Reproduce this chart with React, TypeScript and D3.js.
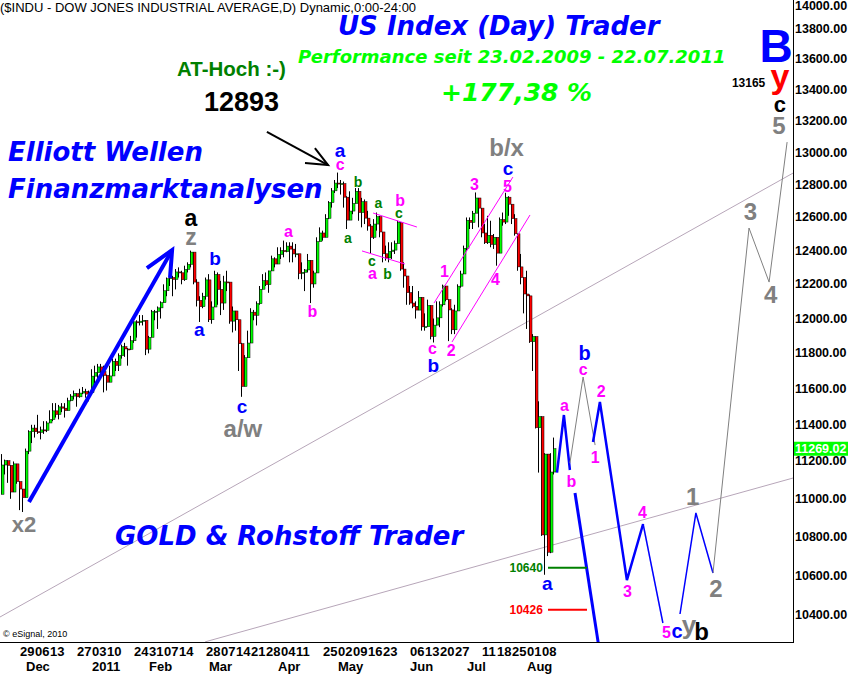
import React from "react";
import * as d3 from "d3";

// ---------- DATA (DJIA daily) ----------
const dates = [
"2010-11-18","2010-11-19","2010-11-22","2010-11-23","2010-11-24","2010-11-26","2010-11-29","2010-11-30",
"2010-12-01","2010-12-02","2010-12-03","2010-12-06","2010-12-07","2010-12-08","2010-12-09","2010-12-10","2010-12-13","2010-12-14","2010-12-15","2010-12-16","2010-12-17","2010-12-20","2010-12-21","2010-12-22","2010-12-23","2010-12-27","2010-12-28","2010-12-29","2010-12-30","2010-12-31",
"2011-01-03","2011-01-04","2011-01-05","2011-01-06","2011-01-07","2011-01-10","2011-01-11","2011-01-12","2011-01-13","2011-01-14","2011-01-18","2011-01-19","2011-01-20","2011-01-21","2011-01-24","2011-01-25","2011-01-26","2011-01-27","2011-01-28","2011-01-31",
"2011-02-01","2011-02-02","2011-02-03","2011-02-04","2011-02-07","2011-02-08","2011-02-09","2011-02-10","2011-02-11","2011-02-14","2011-02-15","2011-02-16","2011-02-17","2011-02-18","2011-02-22","2011-02-23","2011-02-24","2011-02-25","2011-02-28",
"2011-03-01","2011-03-02","2011-03-03","2011-03-04","2011-03-07","2011-03-08","2011-03-09","2011-03-10","2011-03-11","2011-03-14","2011-03-15","2011-03-16","2011-03-17","2011-03-18","2011-03-21","2011-03-22","2011-03-23","2011-03-24","2011-03-25","2011-03-28","2011-03-29","2011-03-30","2011-03-31",
"2011-04-01","2011-04-04","2011-04-05","2011-04-06","2011-04-07","2011-04-08","2011-04-11","2011-04-12","2011-04-13","2011-04-14","2011-04-15","2011-04-18","2011-04-19","2011-04-20","2011-04-21","2011-04-25","2011-04-26","2011-04-27","2011-04-28","2011-04-29",
"2011-05-02","2011-05-03","2011-05-04","2011-05-05","2011-05-06","2011-05-09","2011-05-10","2011-05-11","2011-05-12","2011-05-13","2011-05-16","2011-05-17","2011-05-18","2011-05-19","2011-05-20","2011-05-23","2011-05-24","2011-05-25","2011-05-26","2011-05-27","2011-05-31",
"2011-06-01","2011-06-02","2011-06-03","2011-06-06","2011-06-07","2011-06-08","2011-06-09","2011-06-10","2011-06-13","2011-06-14","2011-06-15","2011-06-16","2011-06-17","2011-06-20","2011-06-21","2011-06-22","2011-06-23","2011-06-24","2011-06-27","2011-06-28","2011-06-29","2011-06-30",
"2011-07-01","2011-07-05","2011-07-06","2011-07-07","2011-07-08","2011-07-11","2011-07-12","2011-07-13","2011-07-14","2011-07-15","2011-07-18","2011-07-19","2011-07-20","2011-07-21","2011-07-22","2011-07-25","2011-07-26","2011-07-27","2011-07-28","2011-07-29",
"2011-08-01","2011-08-02","2011-08-03","2011-08-04","2011-08-05","2011-08-08","2011-08-09","2011-08-10","2011-08-11","2011-08-12"
];

const opens = [
11024,11181,11204,11179,11036,11187,11092,11052,
11006,11256,11362,11382,11362,11359,11372,11370,11410,11429,11477,11457,11499,11492,11478,11533,11559,11573,11555,11576,11585,11570,
11578,11671,11691,11723,11697,11675,11637,11672,11755,11732,11787,11838,11825,11823,11872,11981,11977,11985,11990,11824,
11892,12040,12042,12062,12092,12162,12233,12240,12229,12273,12268,12227,12288,12318,12391,12213,12106,12069,12130,
12226,11993,12067,12258,12170,12090,12214,12213,11985,12044,11993,11855,11613,11775,11859,12037,12019,12086,12171,12221,12198,12279,12351,
12320,12377,12400,12394,12427,12409,12380,12381,12264,12271,12285,12342,12202,12267,12454,12506,12480,12595,12691,12763,
12811,12807,12808,12724,12584,12639,12685,12760,12630,12696,12596,12548,12480,12560,12605,12512,12381,12356,12395,12403,12442,
12570,12290,12249,12151,12090,12071,12049,12124,11952,11953,12076,11897,11962,12004,12080,12190,12110,12050,11935,12044,12189,12261,
12414,12583,12570,12626,12719,12657,12506,12447,12492,12437,12480,12385,12587,12572,12724,12681,12593,12501,12303,12240,
12143,12132,11867,11896,11384,11445,10810,11240,10720,11143
];

const highs = [
11240,11210,11204,11179,11200,11187,11092,11052,
11270,11370,11400,11400,11455,11390,11420,11420,11480,11520,11520,11510,11520,11520,11550,11570,11590,11573,11600,11610,11600,11590,
11710,11730,11740,11740,11730,11680,11730,11770,11770,11800,11850,11860,11830,11900,11990,11990,12020,12020,11990,11900,
12050,12050,12070,12100,12200,12240,12250,12250,12290,12300,12280,12310,12330,12400,12391,12230,12130,12150,12240,
12260,12100,12280,12270,12220,12250,12280,12213,12070,12044,11993,11860,11790,11930,12060,12050,12100,12190,12260,12270,12280,12370,12360,
12420,12420,12460,12450,12450,12450,12440,12381,12330,12290,12380,12342,12280,12480,12540,12520,12620,12700,12780,12830,
12876,12830,12820,12730,12760,12720,12780,12780,12720,12710,12640,12560,12590,12630,12610,12512,12430,12450,12450,12460,12580,
12570,12330,12249,12190,12190,12100,12160,12124,12030,12110,12076,12000,12100,12100,12198,12190,12110,12060,12080,12200,12280,12430,
12600,12600,12640,12753,12719,12657,12560,12610,12580,12500,12480,12600,12630,12751,12730,12681,12620,12501,12380,12240,
12280,12140,11910,11896,11530,11445,11245,11240,11245,11330
];

const lows = [
11024,11130,11085,11000,11036,11080,10940,10930,
11006,11240,11300,11330,11350,11320,11350,11360,11410,11420,11440,11430,11470,11440,11478,11530,11540,11500,11550,11570,11550,11530,
11578,11630,11640,11660,11580,11590,11637,11672,11700,11700,11770,11780,11730,11820,11860,11890,11960,11960,11790,11800,
11892,11990,11940,12000,12092,12130,12190,12130,12170,12240,12200,12220,12270,12300,12200,12070,11980,12060,12110,
11980,11970,12067,12080,12020,12050,12160,11970,11920,11930,11700,11555,11613,11775,11859,11990,11960,12080,12170,12190,12150,12279,12300,
12320,12350,12360,12390,12330,12330,12360,12230,12230,12160,12270,12090,12180,12267,12454,12460,12480,12590,12660,12750,
12780,12740,12660,12530,12584,12620,12685,12580,12540,12560,12520,12380,12470,12520,12480,12330,12340,12330,12350,12380,12442,
12280,12180,12080,12080,12060,12000,12049,11930,11930,11953,11880,11862,11960,11950,12070,12100,11870,11910,11910,12044,12180,12261,
12400,12530,12530,12626,12540,12480,12440,12440,12420,12410,12310,12385,12550,12560,12610,12560,12490,12280,12200,12030,
11940,11860,11700,11380,11140,10805,10604,10700,10715,11130
];

const closes = [
11181,11204,11179,11036,11187,11092,11052,11006,
11256,11362,11382,11362,11359,11372,11370,11410,11429,11477,11457,11499,11492,11478,11533,11559,11573,11555,11576,11585,11570,11578,
11671,11691,11723,11697,11675,11637,11672,11755,11732,11787,11838,11825,11823,11872,11981,11977,11985,11990,11824,11892,
12040,12042,12062,12092,12162,12233,12240,12229,12273,12268,12227,12288,12318,12391,12213,12106,12069,12130,12226,
11993,12067,12258,12170,12090,12214,12213,11985,12044,11993,11855,11613,11775,11859,12037,12019,12086,12171,12221,12198,12279,12351,12320,
12377,12400,12394,12427,12409,12380,12381,12264,12271,12285,12342,12202,12267,12454,12506,12480,12595,12691,12763,12811,
12807,12808,12724,12584,12639,12685,12760,12630,12696,12596,12548,12480,12560,12605,12512,12381,12356,12395,12403,12442,12570,
12290,12249,12151,12090,12071,12049,12124,11952,11953,12076,11897,11962,12004,12080,12190,12110,12050,11935,12044,12189,12261,12414,
12583,12570,12626,12719,12657,12506,12447,12492,12437,12480,12385,12587,12572,12724,12681,12593,12501,12303,12240,12143,
12132,11867,11896,11384,11445,10810,11240,10720,11143,11269.02
];

const lastPrice = 11269.02;

const yTicks = [10400,10600,10800,11000,11200,11400,11600,11800,12000,12200,12400,12600,12800,13000,13200,13400,13600,13800,14000];

const dayTicks = [
"2010-11-29","2010-12-06","2010-12-13","2010-12-27","2011-01-03","2011-01-10","2011-01-24","2011-01-31","2011-02-07","2011-02-14",
"2011-02-28","2011-03-07","2011-03-14","2011-03-21","2011-03-28","2011-04-04","2011-04-11","2011-04-25","2011-05-02","2011-05-09",
"2011-05-16","2011-05-23","2011-06-06","2011-06-13","2011-06-20","2011-06-27","2011-07-11","2011-07-18","2011-07-25","2011-08-01","2011-08-08"
];
const monthTickDates = ["2010-12-01","2011-01-03","2011-01-31","2011-03-01","2011-04-01","2011-05-02","2011-06-06","2011-07-01","2011-08-01"];
const monthTickNames = ["Dec","2011","Feb","Mar","Apr","May","Jun","Jul","Aug"];

const BLUE = "#0000ff", MAG = "#ff00ff", GRAY = "#808080", GREEN = "#008000", BLACK = "#000000", RED = "#ff0000";

// wave labels: bar index (may be future), price at baseline
const waveLabels = [
  { t: "a", i: 63, v: 12548, c: BLACK, s: 23 },
  { t: "z", i: 63, v: 12434, c: GRAY, s: 23 },
  { t: "b", i: 71, v: 12314, c: BLUE, s: 19 },
  { t: "a", i: 65.8, v: 11900, c: BLUE, s: 19 },
  { t: "c", i: 80, v: 11465, c: BLUE, s: 19 },
  { t: "a/w", i: 80.3, v: 11333, c: GRAY, s: 24 },
  { t: "a", i: 95.5, v: 12482, c: MAG, s: 16 },
  { t: "b", i: 103.5, v: 12008, c: MAG, s: 16 },
  { t: "a", i: 112.7, v: 12973, c: BLUE, s: 19 },
  { t: "c", i: 112.7, v: 12893, c: MAG, s: 16 },
  { t: "b", i: 118.7, v: 12786, c: GREEN, s: 14 },
  { t: "a", i: 115.3, v: 12446, c: GREEN, s: 14 },
  { t: "a", i: 125.5, v: 12658, c: GREEN, s: 14 },
  { t: "b", i: 132.7, v: 12670, c: MAG, s: 16 },
  { t: "c", i: 132.3, v: 12597, c: GREEN, s: 14 },
  { t: "c", i: 123.3, v: 12308, c: GREEN, s: 14 },
  { t: "a", i: 123.5, v: 12231, c: MAG, s: 16 },
  { t: "b", i: 128.5, v: 12231, c: GREEN, s: 14 },
  { t: "1", i: 147.5, v: 12243, c: MAG, s: 16 },
  { t: "2", i: 149.7, v: 11785, c: MAG, s: 16 },
  { t: "c", i: 143.5, v: 11796, c: MAG, s: 16 },
  { t: "b", i: 143.8, v: 11694, c: BLUE, s: 19 },
  { t: "3", i: 157.5, v: 12768, c: MAG, s: 16 },
  { t: "4", i: 164.5, v: 12196, c: MAG, s: 16 },
  { t: "5", i: 168.5, v: 12756, c: MAG, s: 16 },
  { t: "c", i: 168.7, v: 12861, c: BLUE, s: 19 },
  { t: "b/x", i: 168.2, v: 12980, c: GRAY, s: 24 },
  { t: "b", i: 194.2, v: 11762, c: BLUE, s: 20 },
  { t: "c", i: 193.7, v: 11677, c: MAG, s: 16 },
  { t: "a", i: 187.5, v: 11476, c: MAG, s: 16 },
  { t: "2", i: 199.7, v: 11554, c: MAG, s: 16 },
  { t: "1", i: 197.7, v: 11192, c: MAG, s: 16 },
  { t: "b", i: 189.8, v: 11063, c: MAG, s: 16 },
  { t: "4", i: 213.5, v: 10898, c: MAG, s: 16 },
  { t: "3", i: 208.5, v: 10491, c: MAG, s: 16 },
  { t: "1", i: 230.2, v: 10967, c: GRAY, s: 24 },
  { t: "2", i: 238, v: 10491, c: GRAY, s: 24 },
  { t: "5", i: 221.5, v: 10285, c: MAG, s: 16 },
  { t: "c", i: 225, v: 10285, c: BLUE, s: 20 },
  { t: "y", i: 229, v: 10305, c: GRAY, s: 26 },
  { t: "b", i: 233.2, v: 10275, c: BLACK, s: 24 },
  { t: "a", i: 181.8, v: 10526, c: BLUE, s: 19 },
  { t: "3", i: 249.5, v: 12584, c: GRAY, s: 24 },
  { t: "4", i: 256.2, v: 12090, c: GRAY, s: 24 },
  { t: "5", i: 259, v: 13118, c: GRAY, s: 24 },
  { t: "c", i: 259.3, v: 13258, c: BLACK, s: 22 },
  { t: "y", i: 259.3, v: 13413, c: RED, s: 34 },
  { t: "B", i: 258, v: 13582, c: BLUE, s: 46 },
  { t: "x2", i: 7.3, v: 10825, c: GRAY, s: 22 },
];

// projected / annotation paths [barIndex, price]
const projections = [
  { c: BLUE, w: 2.5, pts: [[185, 11140], [187.3, 11454], [189.3, 11154]] },
  { c: GRAY, w: 1, pts: [[189.3, 11191], [193.7, 11666], [197.7, 11289]] },
  { c: BLUE, w: 2.5, pts: [[197, 11306], [199.3, 11526], [208.3, 10577], [213.7, 10867]] },
  { c: BLUE, w: 1.5, pts: [[213.7, 10867], [220.3, 10360]] },
  { c: BLUE, w: 1.5, pts: [[226, 10405], [231.3, 10925], [237, 10613]] },
  { c: GRAY, w: 1, pts: [[237, 10613], [249, 12536], [255.7, 12213], [261.7, 13067]] },
  { c: BLUE, w: 3, pts: [[191, 11031], [201.7, 9982]] },
];
const trendLines = [
  [[-0.667, 10390], [263.7, 12873]],
  [[67.7, 10266], [263.7, 11111]],
];
const channelLines = [
  [[123.7, 12627], [138.3, 12542]],
  [[120, 12398], [134.3, 12320]],
  [[144, 12090], [170.3, 12848]],
  [[150, 11865], [176, 12615]],
];
const levels = [
  { v: 10640, c: GREEN },
  { v: 10426, c: RED },
];
const arrows = [
  { c: BLUE, w: 4, shaft: [[9, 10983], [56.7, 12403]], head: [[48.3, 12296], [56.7, 12403], [56, 12237]] },
  { c: BLACK, w: 2, shaft: [[88.3, 13131], [108.7, 12923]], head: [[101, 12935], [108.7, 12923], [104.3, 13029]] },
];

const W = 848, H = 674;
const PR = 793, PB = 642;
const ARIAL = "'Liberation Sans', Arial, sans-serif";
const DJV = "'DejaVu Sans', Verdana, sans-serif";

export default function App() {
  if (![opens, highs, lows, closes].every(a => a.length === dates.length)) {
    throw new Error("length mismatch " + [dates.length, opens.length, highs.length, lows.length, closes.length].join(","));
  }
  const x = d3.scaleLinear().domain([0, dates.length - 1]).range([2, 554]);
  const y = d3.scaleLog().domain([10400, 13800]).range([615, 29]);
  const idx = new Map(dates.map((d, i) => [d, i] as [string, number]));
  const line = d3.line<number[]>().x(p => x(p[0])).y(p => y(p[1]));

  return (
    <svg width={W} height={H} style={{ position: "fixed", left: 0, top: 0, background: "#fff" }}
      xmlns="http://www.w3.org/2000/svg">
      <defs>
        <clipPath id="plot"><rect x={0} y={0} width={PR} height={PB} /></clipPath>
      </defs>
      <rect x={0} y={0} width={W} height={H} fill="#fff" />

      <g clipPath="url(#plot)">
        {/* long trend lines */}
        {trendLines.map((l, k) => (
          <path key={"t" + k} d={line(l as number[][]) || ""} stroke="#b7a6b9" strokeWidth={1} fill="none" />
        ))}

        {/* candles */}
        {dates.map((d, i) => {
          const o = opens[i], c = closes[i];
          const cx = Math.round(x(i));
          const top = y(Math.max(o, c)), bot = y(Math.min(o, c));
          const col = c >= o ? "#00ff00" : "#ff0000";
          return (
            <g key={d}>
              <line x1={cx - 0.5} x2={cx - 0.5} y1={y(highs[i])} y2={y(lows[i])} stroke="#000" strokeWidth={1} />
              <rect x={cx - 0.5} y={top} width={2.5} height={Math.max(1, bot - top)} fill={col} stroke="#000" strokeWidth={0.5} />
            </g>
          );
        })}

        {/* channel lines */}
        {channelLines.map((l, k) => (
          <path key={"c" + k} d={line(l as number[][]) || ""} stroke={MAG} strokeWidth={1} fill="none" />
        ))}

        {/* projections */}
        {projections.map((p, k) => (
          <path key={"p" + k} d={line(p.pts as number[][]) || ""} stroke={p.c} strokeWidth={p.w} fill="none" strokeLinejoin="miter" />
        ))}

        {/* levels */}
        {levels.map((l, k) => (
          <g key={"l" + k}>
            <line x1={x(182)} x2={x(195)} y1={y(l.v)} y2={y(l.v)} stroke={l.c} strokeWidth={2} />
            <text x={x(180.3)} y={y(l.v)} dy="0.36em" textAnchor="end" fontFamily={ARIAL} fontWeight="bold" fontSize={12} fill={l.c}>{l.v}</text>
          </g>
        ))}

        {/* arrows */}
        {arrows.map((a, k) => (
          <g key={"a" + k}>
            <path d={line(a.shaft as number[][]) || ""} stroke={a.c} strokeWidth={a.w} fill="none" />
            <path d={line(a.head as number[][]) || ""} stroke={a.c} strokeWidth={a.w} fill="none" strokeLinejoin="miter" />
          </g>
        ))}

        {/* wave labels */}
        {waveLabels.map((l, k) => (
          <text key={"w" + k} x={x(l.i)} y={y(l.v)} textAnchor="middle" fontFamily={ARIAL} fontWeight="bold" fontSize={l.s} fill={l.c}>{l.t}</text>
        ))}
        <text x={x(243.3)} y={y(13419)} fontFamily={ARIAL} fontWeight="bold" fontSize={12} fill={BLACK}>13165</text>

        {/* headline texts */}
        <text x={0} y={12} fontFamily={ARIAL} fontSize={13} fill="#000">($INDU - DOW JONES INDUSTRIAL AVERAGE,D) Dynamic,0:00-24:00</text>
        <text x={338} y={35} fontFamily={DJV} fontWeight="bold" fontStyle="oblique" fontSize={26} fill={BLUE}>US Index (Day) Trader</text>
        <text x={298} y={63} fontFamily={DJV} fontWeight="bold" fontStyle="oblique" fontSize={18} fill="#00ff00">Performance seit 23.02.2009 - 22.07.2011</text>
        <text x={441} y={101} fontFamily={DJV} fontWeight="bold" fontStyle="oblique" fontSize={25} fill="#00ff00">+177,38 %</text>
        <text x={177} y={76} fontFamily={ARIAL} fontWeight="bold" fontSize={20.5} fill={GREEN}>AT-Hoch :-)</text>
        <text x={204} y={111} fontFamily={ARIAL} fontWeight="bold" fontSize={27} fill="#000">12893</text>
        <text x={8} y={161} fontFamily={DJV} fontWeight="bold" fontStyle="oblique" fontSize={26} fill={BLUE}>Elliott Wellen</text>
        <text x={8} y={198} fontFamily={DJV} fontWeight="bold" fontStyle="oblique" fontSize={26} fill={BLUE}>Finanzmarktanalysen</text>
        <text x={115} y={545} fontFamily={DJV} fontWeight="bold" fontStyle="oblique" fontSize={26} fill={BLUE}>GOLD &amp; Rohstoff Trader</text>
        <text x={3} y={637} fontFamily={ARIAL} fontSize={9} fill="#000">© eSignal, 2010</text>
      </g>

      {/* frame */}
      <line x1={PR + 0.5} x2={PR + 0.5} y1={0} y2={PB} stroke="#000" strokeWidth={1} />
      <line x1={0} x2={PR + 1} y1={PB + 0.5} y2={PB + 0.5} stroke="#000" strokeWidth={1} />

      {/* y axis */}
      {yTicks.map(t => (
        <text key={t} x={795} y={Math.max(6, y(t))} dominantBaseline="central" fontFamily={ARIAL} fontWeight="bold" fontSize={12.5} fill="#000">
          {d3.format(".2f")(t)}
        </text>
      ))}
      <rect x={794} y={y(lastPrice) - 7} width={54} height={14} fill="#00ff00" />
      <text x={795} y={y(lastPrice)} dominantBaseline="central" fontFamily={ARIAL} fontWeight="bold" fontSize={12.5} fill="#fff">
        {d3.format(".2f")(lastPrice)}
      </text>

      {/* x axis */}
      {dayTicks.map(d => (
        <text key={d} x={x(idx.get(d) as number)} y={656} fontFamily={ARIAL} fontWeight="bold" fontSize={13} fill="#000">{d.slice(8)}</text>
      ))}
      {monthTickDates.map((d, k) => (
        <text key={d} x={x(idx.get(d) as number)} y={671} fontFamily={ARIAL} fontWeight="bold" fontSize={13} fill="#000">{monthTickNames[k]}</text>
      ))}
    </svg>
  );
}
